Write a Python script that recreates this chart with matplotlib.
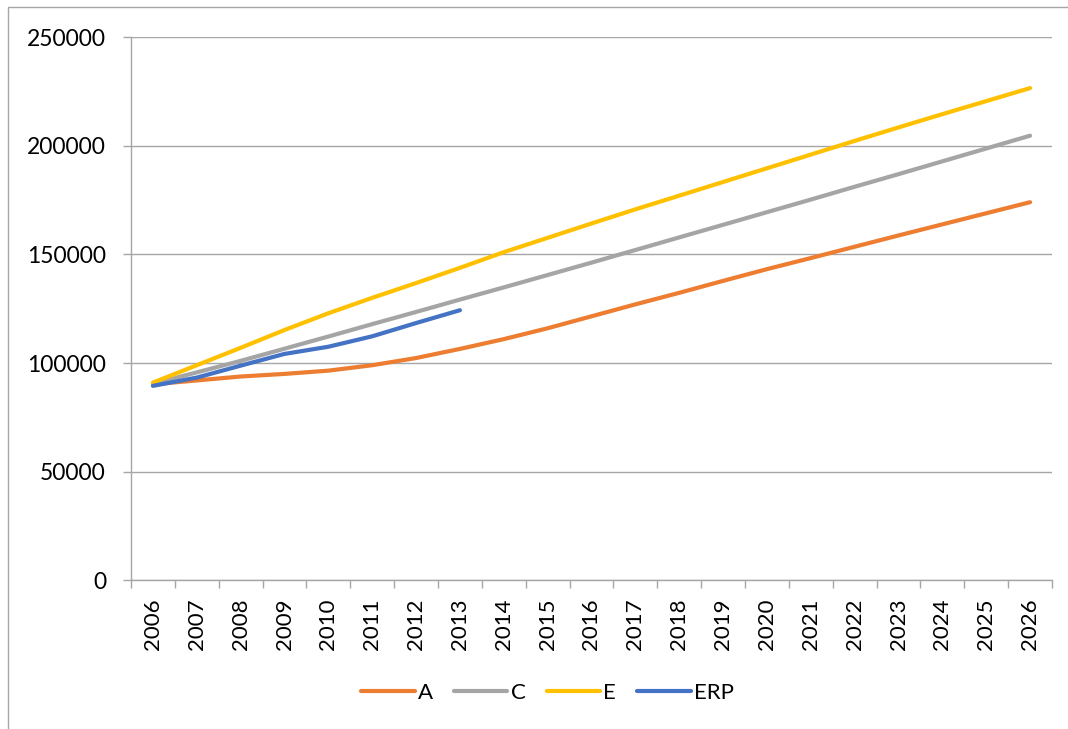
import matplotlib
matplotlib.use('Agg')
import matplotlib.pyplot as plt
import numpy as np
from matplotlib.ticker import FuncFormatter, MultipleLocator
from matplotlib.patches import Rectangle

years = list(range(2006, 2027))

seriesA = [90200, 92000, 93800, 95000, 96500, 99000, 102300, 106500, 111000, 116000, 121500,
           127000, 132300, 137800, 143200, 148300, 153500, 158700, 163800, 168900, 174000]
seriesC = [90500, 95700, 101000, 106600, 112200, 117900, 123500, 129200, 134800, 140500, 146200,
           152000, 157800, 163600, 169400, 175200, 181100, 186900, 192800, 198700, 204600]
seriesE = [91000, 99000, 107000, 115200, 122900, 130000, 136800, 143800, 151000, 157600, 164200,
           170700, 177000, 183300, 189600, 195900, 202200, 208400, 214500, 220500, 226500]
erp = [89500, 93300, 98800, 104200, 107500, 112300, 118400, 124300]

names = ['A', 'C', 'E', 'ERP']
colours = ['#ED7D31', '#A5A5A5', '#FFC000', '#4472C4']

plt.rcParams['font.family'] = ['Lato', 'DejaVu Sans']

W, H = 1068, 729
fig = plt.figure(figsize=(W / 100, H / 100), dpi=100)
ax = fig.add_axes([131 / W, 1 - 580.4 / H, 921 / W, 543.4 / H])

x = np.arange(len(years))
for name, col, vals in zip(names, colours, [seriesA, seriesC, seriesE, erp]):
    ax.plot(x[:len(vals)], vals, color=col, lw=3, label=name,
            solid_capstyle='round', solid_joinstyle='round', zorder=3)

ax.set_xlim(-0.5, len(years) - 0.5)
ax.set_ylim(0, 250000)
ax.yaxis.set_major_locator(MultipleLocator(50000))
ax.yaxis.set_major_formatter(FuncFormatter(lambda v, p: '%d' % v))
ax.grid(axis='y', color='#a6a6a6', lw=1)
ax.set_axisbelow(True)

# labels sit on the categories, tick marks between them
ax.set_xticks(x)
ax.set_xticklabels([str(y) for y in years], rotation=90)
ax.set_xticks(np.arange(-0.5, len(years)), minor=True)
ax.tick_params(axis='x', which='major', length=0, pad=13, labelsize=16)
ax.tick_params(axis='x', which='minor', length=6, width=1, color='#a6a6a6')
ax.tick_params(axis='y', length=6, width=1, color='#a6a6a6', pad=12, labelsize=16.5)

for side in ['top', 'right']:
    ax.spines[side].set_visible(False)
for side in ['left', 'bottom']:
    ax.spines[side].set_color('#a6a6a6')
    ax.spines[side].set_linewidth(1)

fig.legend(loc='center', bbox_to_anchor=(547.5 / W, 1 - 693 / H), ncol=4, frameon=False,
           fontsize=16, handlelength=2.4, handletextpad=0.15, columnspacing=0.95)

# chart border
fig.add_artist(Rectangle((8 / W, -0.1), 1.2, 1.1 - 7 / H, transform=fig.transFigure,
                         fill=False, edgecolor='#a6a6a6', lw=1))

fig.savefig('out.png', dpi=100)
